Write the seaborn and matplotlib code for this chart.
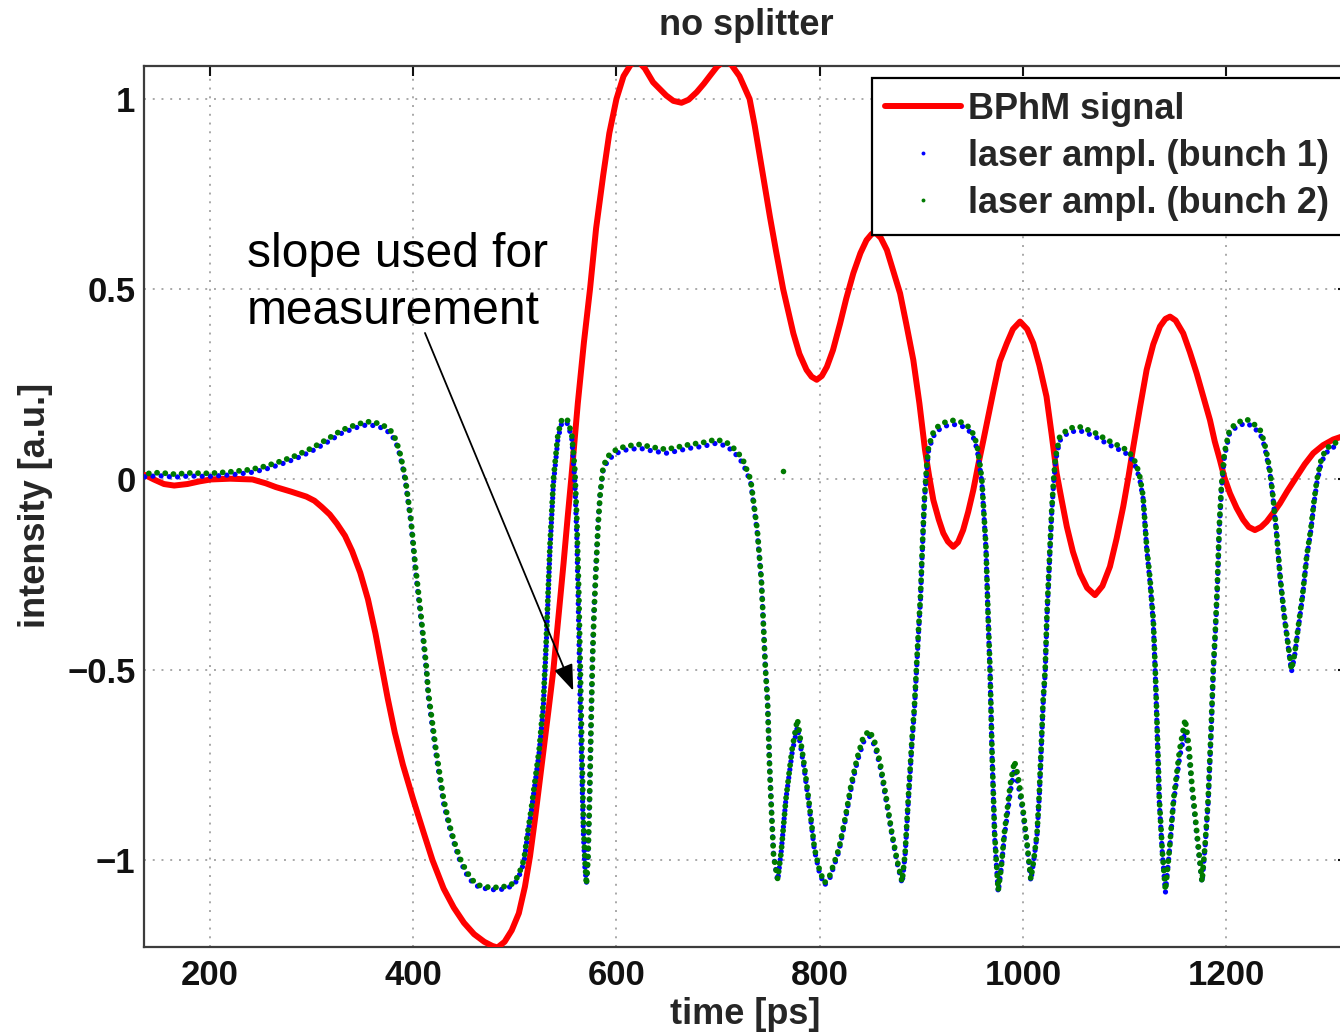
import matplotlib
matplotlib.use("Agg")
import matplotlib.pyplot as plt
from matplotlib.lines import Line2D
import seaborn as sns

# ---------------- data ----------------
x_ticks = [200, 400, 600, 800, 1000, 1200]
y_ticks = [-1, -0.5, 0, 0.5, 1]
y_tick_labels = ["\u22121", "\u22120.5", "0", "0.5", "1"]

# BPhM signal (red line)
t_red = [136, 145, 155, 165, 178, 190, 201, 220, 242, 255,
         265, 280, 295, 303, 310, 318, 325, 333, 340, 348,
         355.6, 363, 370, 375, 382, 390, 400, 410, 419, 430,
         440, 450, 460, 470, 478, 483, 490, 497, 504, 510,
         515, 520, 527, 533, 538, 543, 548, 552, 555.5, 562,
         568, 574, 580, 587, 593, 600, 607, 614, 621, 628,
         636, 649, 656, 664, 671, 679, 686, 692, 699, 706,
         713, 721, 726, 731, 736, 741, 746, 751, 757, 764,
         770, 774, 780, 787, 792, 797, 802, 807, 813, 820,
         826, 833, 840, 846, 851, 855, 860, 866, 872, 879,
         885, 892, 898, 903.5, 907.5, 911.7, 917, 921.5, 926, 931.3,
         936, 941, 946, 951, 956, 961, 966, 971, 977, 984,
         990, 997, 1004, 1010, 1016, 1023, 1028, 1033, 1038, 1043,
         1049, 1056, 1063, 1070.7, 1078, 1085.4, 1092, 1098.5, 1103.5, 1108.4,
         1115, 1121.5, 1128, 1134.6, 1140, 1144.5, 1150, 1157.5, 1164, 1170.7,
         1177, 1183.8, 1188.5, 1193.6, 1198, 1203.4, 1210, 1216.5, 1222, 1228,
         1234, 1239.5, 1246, 1252.6, 1260, 1269, 1277, 1285.4, 1295, 1305,
         1316]
v_red = [0.012, 0.0, -0.012, -0.016, -0.012, -0.005, 0.0, 0.002, 0.0, -0.01,
         -0.02, -0.032, -0.045, -0.056, -0.072, -0.092, -0.116, -0.148, -0.188, -0.245,
         -0.315, -0.405, -0.505, -0.575, -0.665, -0.75, -0.84, -0.925, -1.0, -1.075,
         -1.125, -1.165, -1.195, -1.215, -1.226, -1.23, -1.215, -1.185, -1.14, -1.07,
         -0.99, -0.89, -0.74, -0.61, -0.5, -0.36, -0.22, -0.1, 0.0, 0.2,
         0.36, 0.5, 0.66, 0.8, 0.91, 1.0, 1.06, 1.09, 1.1, 1.08,
         1.044, 1.009, 0.995, 0.99, 0.998, 1.018, 1.04, 1.061, 1.085, 1.1,
         1.09, 1.06, 1.03, 1.0, 0.93, 0.85, 0.77, 0.69, 0.6, 0.5,
         0.43, 0.384, 0.33, 0.288, 0.27, 0.262, 0.272, 0.296, 0.34, 0.41,
         0.475, 0.542, 0.595, 0.629, 0.645, 0.648, 0.635, 0.603, 0.55, 0.489,
         0.41, 0.314, 0.2, 0.078, 0.01, -0.054, -0.105, -0.141, -0.163, -0.177,
         -0.165, -0.133, -0.085, -0.028, 0.04, 0.104, 0.17, 0.235, 0.31, 0.358,
         0.395, 0.415, 0.395, 0.358, 0.3, 0.218, 0.12, 0.016, -0.055, -0.124,
         -0.19, -0.247, -0.285, -0.304, -0.28, -0.229, -0.155, -0.071, 0.005, 0.086,
         0.19, 0.288, 0.355, 0.402, 0.422, 0.428, 0.418, 0.384, 0.335, 0.279,
         0.22, 0.156, 0.1, 0.051, 0.005, -0.036, -0.075, -0.106, -0.125, -0.133,
         -0.125, -0.111, -0.088, -0.063, -0.03, 0.007, 0.04, 0.069, 0.09, 0.105,
         0.115]

# laser amplitude (shared time base)
t_laser = [136, 150, 165, 180, 200, 220, 240, 255, 270, 285,
           300, 315, 330, 345, 355, 365, 372, 378, 383, 387,
           390, 392.5, 395, 398, 402, 407.5, 413, 415, 422.5, 430,
           436, 441, 446, 452.5, 458, 464, 475, 486, 496, 501,
           505, 509, 512, 516, 520, 524, 528, 531, 534.5, 538,
           542.5, 546, 549, 552, 556, 559, 561, 563, 564.5, 566,
           567.5, 569, 570.5, 572, 573.5, 575, 576.5, 578, 580, 582,
           584, 587, 592, 600, 610, 623, 635, 649, 660, 672,
           685, 698, 708, 715, 721, 725, 729, 732, 735, 738.6,
           742.6, 746.6, 748.6, 750.6, 752.5, 754.6, 758.6, 762, 766.7, 772.7,
           778, 784.7, 790, 794.8, 800, 804.8, 810, 818.9, 825, 831,
           837, 843, 849, 854, 859, 865, 871, 876, 881, 884,
           887, 891, 893, 895, 897, 899, 901, 903, 905, 907,
           911, 915, 923, 931, 940, 947, 952, 955, 957.5, 959.4,
           961.5, 963.5, 965.5, 967.5, 969.5, 972, 975.5, 978.5, 981.5, 987.5,
           991.5, 995, 999.6, 1004, 1007.6, 1010.5, 1013.7, 1016, 1017.7, 1019.7,
           1021.7, 1023.5, 1025.7, 1028, 1030, 1032, 1036, 1045, 1056, 1066,
           1072, 1080, 1089, 1097, 1102, 1108, 1112, 1115, 1118, 1121.5,
           1124.8, 1128.1, 1130, 1131.5, 1134, 1137, 1140, 1144, 1148, 1154,
           1159.4, 1163, 1166, 1171, 1176, 1179, 1182, 1185, 1187, 1189,
           1191, 1193, 1195, 1198, 1203, 1210, 1216, 1220, 1226, 1233,
           1237, 1239.5, 1243, 1246, 1249, 1253, 1257, 1261, 1264, 1267,
           1271, 1275, 1279, 1283, 1286, 1289, 1293, 1297, 1302, 1308,
           1316]

v_bunch2 = [0.015, 0.018, 0.014, 0.017, 0.016, 0.02, 0.026, 0.035, 0.048, 0.063,
            0.082, 0.105, 0.13, 0.145, 0.152, 0.148, 0.14, 0.128, 0.105, 0.07,
            0.035, 0.0, -0.05, -0.108, -0.22, -0.35, -0.49, -0.56, -0.71, -0.84,
            -0.91, -0.956, -0.995, -1.03, -1.052, -1.066, -1.072, -1.072, -1.066, -1.053,
            -1.03, -1.0, -0.94, -0.87, -0.79, -0.71, -0.59, -0.42, -0.18, 0.0,
            0.12, 0.155, 0.162, 0.155, 0.12, 0.03, -0.1, -0.3, -0.5, -0.7,
            -0.9, -1.0, -1.065, -1.0, -0.85, -0.65, -0.47, -0.35, -0.23, -0.12,
            -0.04, 0.035, 0.062, 0.079, 0.088, 0.092, 0.085, 0.079, 0.085, 0.092,
            0.097, 0.105, 0.098, 0.083, 0.065, 0.048, 0.02, 0.0, -0.06, -0.134,
            -0.265, -0.5, -0.58, -0.75, -0.87, -0.99, -1.05, -0.98, -0.84, -0.71,
            -0.63, -0.75, -0.86, -0.97, -1.03, -1.06, -1.04, -0.97, -0.89, -0.8,
            -0.73, -0.675, -0.66, -0.69, -0.74, -0.83, -0.93, -1.0, -1.057, -0.98,
            -0.84, -0.67, -0.6, -0.5, -0.4, -0.31, -0.17, -0.046, 0.03, 0.085,
            0.12, 0.137, 0.15, 0.155, 0.15, 0.137, 0.115, 0.085, 0.04, 0.0,
            -0.09, -0.178, -0.35, -0.5, -0.72, -0.93, -1.08, -1.02, -0.93, -0.8,
            -0.74, -0.78, -0.86, -0.96, -1.05, -1.0, -0.93, -0.82, -0.71, -0.58,
            -0.5, -0.35, -0.22, -0.087, 0.0, 0.06, 0.112, 0.135, 0.138, 0.128,
            0.121, 0.108, 0.095, 0.085, 0.077, 0.06, 0.034, 0.005, -0.044, -0.175,
            -0.26, -0.37, -0.5, -0.62, -0.84, -0.98, -1.08, -0.97, -0.84, -0.71,
            -0.63, -0.7, -0.8, -0.93, -1.057, -0.96, -0.84, -0.65, -0.5, -0.4,
            -0.28, -0.12, -0.02, 0.07, 0.13, 0.149, 0.155, 0.158, 0.148, 0.131,
            0.1, 0.07, 0.02, -0.05, -0.13, -0.26, -0.36, -0.44, -0.5, -0.46,
            -0.38, -0.3, -0.2, -0.13, -0.06, 0.0, 0.05, 0.075, 0.09, 0.097,
            0.1]

v_bunch1 = [0.007, 0.01, 0.006, 0.009, 0.008, 0.012, 0.018, 0.027, 0.04, 0.055,
            0.074, 0.097, 0.122, 0.137, 0.144, 0.14, 0.132, 0.12, 0.098, 0.064,
            0.028, -0.007, -0.057, -0.117, -0.232, -0.362, -0.502, -0.572, -0.722, -0.852,
            -0.917, -0.962, -1.002, -1.037, -1.058, -1.07, -1.078, -1.078, -1.07, -1.058,
            -1.037, -1.007, -0.947, -0.877, -0.797, -0.717, -0.602, -0.432, -0.192, -0.012,
            0.108, 0.146, 0.153, 0.146, 0.11, 0.0, -0.15, -0.4, -0.62, -0.78,
            -0.93, -1.02, -1.06, -0.99, -0.84, -0.64, -0.46, -0.34, -0.22, -0.11,
            -0.035, 0.026, 0.052, 0.069, 0.078, 0.082, 0.075, 0.069, 0.075, 0.082,
            0.087, 0.095, 0.088, 0.073, 0.055, 0.038, 0.012, -0.007, -0.067, -0.142,
            -0.27, -0.5, -0.58, -0.75, -0.87, -0.99, -1.055, -0.98, -0.84, -0.72,
            -0.65, -0.76, -0.87, -0.975, -1.037, -1.066, -1.047, -0.977, -0.897, -0.81,
            -0.74, -0.69, -0.675, -0.7, -0.75, -0.84, -0.935, -1.007, -1.062, -0.985,
            -0.85, -0.68, -0.61, -0.51, -0.41, -0.32, -0.18, -0.055, 0.02, 0.075,
            0.11, 0.127, 0.14, 0.145, 0.14, 0.127, 0.105, 0.075, 0.031, -0.007,
            -0.095, -0.185, -0.36, -0.51, -0.73, -0.94, -1.085, -1.022, -0.94, -0.82,
            -0.76, -0.8, -0.87, -0.965, -1.055, -1.0, -0.935, -0.83, -0.72, -0.59,
            -0.51, -0.36, -0.23, -0.095, -0.01, 0.05, 0.102, 0.125, 0.128, 0.118,
            0.111, 0.098, 0.085, 0.075, 0.067, 0.05, 0.025, -0.004, -0.05, -0.18,
            -0.27, -0.38, -0.51, -0.63, -0.85, -0.985, -1.085, -0.975, -0.85, -0.73,
            -0.66, -0.72, -0.81, -0.94, -1.06, -0.965, -0.85, -0.66, -0.51, -0.41,
            -0.29, -0.13, -0.03, 0.06, 0.12, 0.139, 0.145, 0.148, 0.138, 0.121,
            0.091, 0.061, 0.012, -0.055, -0.135, -0.265, -0.365, -0.445, -0.505, -0.465,
            -0.385, -0.305, -0.205, -0.135, -0.065, -0.008, 0.041, 0.066, 0.081, 0.088,
            0.092]

# isolated stray sample of bunch 2
stray_t_bunch2 = [764.0]
stray_v_bunch2 = [0.022]

assert len(t_red) == len(v_red)
assert len(t_laser) == len(v_bunch1) == len(v_bunch2)

# ---------------- style ----------------
sns.set_style("white")
plt.rcParams["font.family"] = ["Liberation Sans", "DejaVu Sans"]
plt.rcParams["font.weight"] = "bold"

RED = "#ff0000"
BLUE = "#0000ff"
GREEN = "#007a00"

fig = plt.figure(figsize=(13.4, 10.34), dpi=100)
ax = fig.add_axes([0.1073, 0.0844, 0.8990, 0.8521])

# ---------------- data layers ----------------
sns.lineplot(x=t_red, y=v_red, ax=ax, color=RED, linewidth=4.3,
             estimator=None, errorbar=None, sort=False, zorder=3)
sns.lineplot(x=t_laser, y=v_bunch1, ax=ax, color=BLUE, linewidth=3.8,
             linestyle=(0.0, (0.01, 1.55)), dash_capstyle="round",
             estimator=None, errorbar=None, sort=False, zorder=4)
sns.lineplot(x=t_laser, y=v_bunch2, ax=ax, color=GREEN, linewidth=4.2,
             linestyle=(0.7, (0.01, 1.4)), dash_capstyle="round",
             estimator=None, errorbar=None, sort=False, zorder=5)
sns.scatterplot(x=stray_t_bunch2, y=stray_v_bunch2, ax=ax, color=GREEN,
                s=16, linewidth=0, zorder=5)

# ---------------- axes ----------------
ax.set_xlim(135.1, 1320)
ax.set_ylim(-1.228, 1.0875)
ax.set_xticks(x_ticks)
ax.set_yticks(y_ticks)
ax.set_yticklabels(y_tick_labels)
ax.grid(True, color="#a8a8a8", linestyle=(0, (1, 3.5)), linewidth=1.4)
ax.set_axisbelow(True)
ax.tick_params(direction="in", length=7, width=1.5, top=True, right=True,
               labelsize=25, colors="#111111")
ax.tick_params(axis="x", pad=9)
ax.tick_params(axis="y", pad=6)
for sp in ax.spines.values():
    sp.set_color("#3c3c3c")
    sp.set_linewidth(1.6)

ax.set_title("no splitter", fontsize=26, fontweight="bold", pad=22)
ax.set_xlabel("time [ps]", fontsize=26, fontweight="bold")
ax.set_ylabel("intensity [a.u.]", fontsize=26, fontweight="bold")
ax.xaxis.set_label_coords(0.4995, -0.0565)
ax.yaxis.set_label_coords(-0.0754, 0.5006)

# annotation
ax.text(236.6, 0.408, "slope used for\nmeasurement", fontsize=34.5,
        fontweight="normal", ha="left", va="baseline", linespacing=1.36,
        color="black", zorder=6)
ax.annotate("", xy=(557.5, -0.555), xytext=(411.7, 0.385),
            arrowprops=dict(arrowstyle="-|>,head_length=0.8,head_width=0.3",
                            color="black", lw=1.3, shrinkA=0, shrinkB=0,
                            mutation_scale=20), zorder=6)

# legend
handles = [
    Line2D([], [], color=RED, linewidth=4.3),
    Line2D([], [], color=BLUE, linestyle="none", marker="o", markersize=2.8,
           markeredgewidth=0),
    Line2D([], [], color=GREEN, linestyle="none", marker="o", markersize=2.8,
           markeredgewidth=0),
]
labels = ["BPhM signal", "laser ampl. (bunch 1)", "laser ampl. (bunch 2)"]
leg = ax.legend(handles, labels, loc="upper left",
                bbox_to_anchor=(871.7 / 1340, 1 - 78.3 / 1034),
                bbox_transform=fig.transFigure, borderaxespad=0,
                prop={"size": 26, "weight": "bold"}, frameon=True,
                fancybox=False, framealpha=1, edgecolor="black",
                handlelength=2.08, handletextpad=0.22, borderpad=0.38,
                labelspacing=0.33)
leg.get_frame().set_linewidth(1.6)
leg.set_zorder(10)

fig.savefig("out.png", dpi=100)
